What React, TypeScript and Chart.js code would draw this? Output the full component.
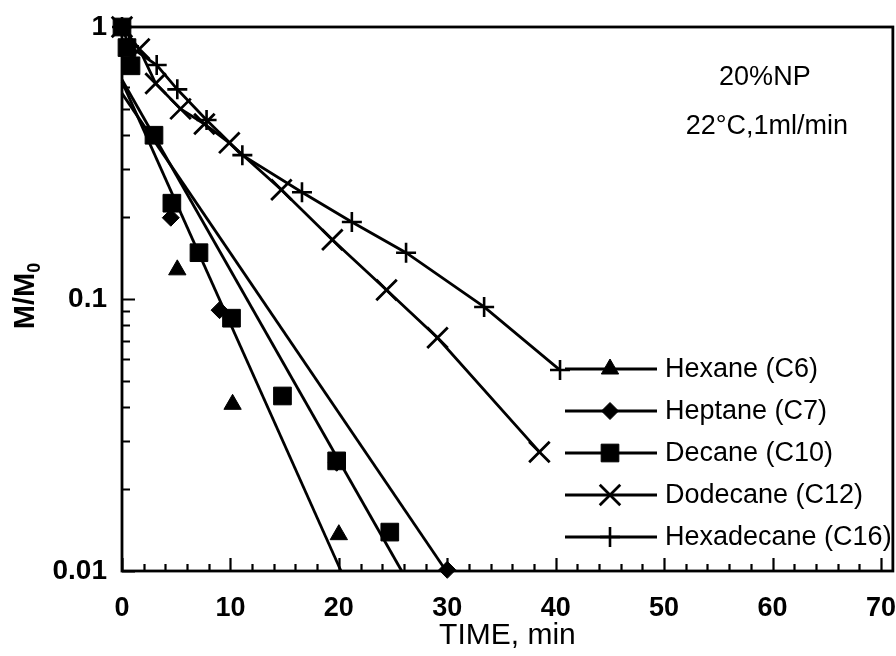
import React, { useEffect, useRef } from 'react';
import { Chart, registerables, PointElement } from 'chart.js';

Chart.register(...registerables);

const FONT = '"Liberation Sans", Arial, Helvetica, sans-serif';
const INK = '#000';

// Axes
const timeTicks = [0, 10, 20, 30, 40, 50, 60, 70];
const timeMin = 0;
const timeMax = 71.1;
const timeMinorStep = 2;
const ratioTicks = [0.01, 0.1, 1];
const ratioTickLabels = ['0.01', '0.1', '1'];

const seriesNames = ['Hexane (C6)', 'Heptane (C7)', 'Decane (C10)', 'Dodecane (C12)', 'Hexadecane (C16)'];
const noteLines = ['20%NP', '22°C,1ml/min'];

// Measured residual fraction M/M0 against time (min)
const hexaneTime = [5.1, 10.2, 20.0];
const hexaneRatio = [0.128, 0.041, 0.0136];
const heptaneTime = [4.5, 9.0, 19.8, 30.0];
const heptaneRatio = [0.199, 0.091, 0.025, 0.0101];
const decaneTime = [0, 0.46, 0.83, 2.95, 4.6, 7.1, 10.1, 14.8, 19.8, 24.7];
const decaneRatio = [1.0, 0.84, 0.72, 0.4, 0.225, 0.148, 0.085, 0.044, 0.0254, 0.0139];
const dodecaneTime = [0, 1.6, 3.1, 5.4, 7.6, 9.9, 14.7, 19.4, 24.4, 29.1, 38.5];
const dodecaneRatio = [1.0, 0.83, 0.62, 0.5, 0.44, 0.375, 0.252, 0.165, 0.108, 0.072, 0.0274];
const hexadecaneTime = [0, 0.65, 3.2, 5.1, 7.8, 11.1, 16.6, 21.2, 26.2, 33.4, 40.4];
const hexadecaneRatio = [1.0, 0.85, 0.725, 0.59, 0.455, 0.338, 0.247, 0.192, 0.148, 0.0935, 0.0548];

// First-order decay fits for the light alkanes
const hexaneFitTime = [0, 20.2];
const hexaneFitRatio = [0.63, 0.01];
const heptaneFitTime = [0, 29.9];
const heptaneFitRatio = [0.57, 0.01];
const decaneFitTime = [0, 25.8];
const decaneFitRatio = [0.64, 0.01];

const zip = (xs: number[], ys: number[]) => xs.map((x, i) => ({ x, y: ys[i] }));

type MarkerStyle = { pointStyle: string; radius: number; borderWidth: number };
const markerStyles: MarkerStyle[] = [
  { pointStyle: 'triangle', radius: 10, borderWidth: 1 },
  { pointStyle: 'rectRot', radius: 8.5, borderWidth: 1 },
  { pointStyle: 'rect', radius: 12.5, borderWidth: 1 },
  { pointStyle: 'crossRot', radius: 14.5, borderWidth: 2.8 },
  { pointStyle: 'cross', radius: 10, borderWidth: 2.6 },
];

const markerSet = (label: string, xs: number[], ys: number[], idx: number, withLine: boolean) => ({
  label,
  data: zip(xs, ys),
  showLine: withLine,
  borderColor: INK,
  backgroundColor: INK,
  borderWidth: 2.8,
  pointStyle: markerStyles[idx].pointStyle,
  pointRadius: markerStyles[idx].radius,
  pointBorderWidth: markerStyles[idx].borderWidth,
  pointBackgroundColor: INK,
  pointBorderColor: INK,
  clip: false,
  order: 0,
  legendIndex: idx,
});

const fitSet = (xs: number[], ys: number[]) => ({
  label: '',
  data: zip(xs, ys),
  showLine: true,
  borderColor: INK,
  borderWidth: 2.8,
  pointRadius: 0,
  clip: false,
  order: 5,
});

// Frame, inward ticks, notes, y-axis title and the inset legend
const decorPlugin = {
  id: 'decor',
  beforeDatasetsDraw(chart: any) {
    const { ctx, chartArea: a, scales } = chart;
    const xs = scales.x;
    const ys = scales.y;
    ctx.save();
    ctx.strokeStyle = INK;
    ctx.lineWidth = 2.8;
    ctx.strokeRect(a.left, a.top, a.right - a.left, a.bottom - a.top);

    ctx.lineWidth = 2.2;
    ctx.beginPath();
    for (let t = timeMin; t <= timeMax; t += timeMinorStep) {
      const px = Math.round(xs.getPixelForValue(t)) + 0.5;
      const len = t % 10 === 0 ? 13 : 7;
      ctx.moveTo(px, a.bottom);
      ctx.lineTo(px, a.bottom - len);
    }
    for (let k = 0; k < ratioTicks.length - 1; k++) {
      const base = ratioTicks[k];
      for (let m = 1; m <= 9; m++) {
        const v = base * m;
        const py = Math.round(ys.getPixelForValue(v)) + 0.5;
        const len = m === 1 ? 13 : 8;
        ctx.moveTo(a.left, py);
        ctx.lineTo(a.left + len, py);
      }
    }
    ctx.stroke();
    ctx.restore();
  },
  afterDatasetsDraw(chart: any) {
    const { ctx, chartArea: a } = chart;
    ctx.save();
    ctx.fillStyle = INK;
    ctx.strokeStyle = INK;

    // notes, upper right
    ctx.font = `27px ${FONT}`;
    ctx.textAlign = 'center';
    ctx.textBaseline = 'middle';
    ctx.fillText(noteLines[0], a.right - 128, 78);
    ctx.fillText(noteLines[1], a.right - 126, 127);

    // y-axis title M/M0 with subscript, rotated
    ctx.save();
    ctx.translate(23, (a.top + a.bottom) / 2 - 3);
    ctx.rotate(-Math.PI / 2);
    const main = 'M/M';
    const sub = '0';
    ctx.font = `bold 29px ${FONT}`;
    const wMain = ctx.measureText(main).width;
    ctx.font = `bold 18px ${FONT}`;
    const wSub = ctx.measureText(sub).width;
    const start = -(wMain + wSub) / 2;
    ctx.textAlign = 'left';
    ctx.textBaseline = 'alphabetic';
    ctx.font = `bold 29px ${FONT}`;
    ctx.fillText(main, start, 11);
    ctx.font = `bold 18px ${FONT}`;
    ctx.fillText(sub, start + wMain, 17);
    ctx.restore();

    // legend
    const x0 = 565;
    const x1 = 657;
    const xm = 610;
    const xt = 665;
    const y0 = 369;
    const dy = 42;
    chart.data.datasets.forEach((ds: any) => {
      if (ds.legendIndex === undefined) return;
      const i = ds.legendIndex;
      const y = y0 + i * dy;
      ctx.lineWidth = 2.8;
      ctx.beginPath();
      ctx.moveTo(x0, y);
      ctx.lineTo(x1, y);
      ctx.stroke();
      const pt = new (PointElement as any)({
        x: xm,
        y,
        options: {
          pointStyle: markerStyles[i].pointStyle,
          radius: markerStyles[i].radius,
          rotation: 0,
          borderWidth: markerStyles[i].borderWidth,
          borderColor: INK,
          backgroundColor: INK,
        },
      });
      pt.draw(ctx);
      ctx.font = `27px ${FONT}`;
      ctx.textAlign = 'left';
      ctx.textBaseline = 'middle';
      ctx.fillStyle = INK;
      ctx.fillText(ds.label, xt, y + 1);
    });
    ctx.restore();
  },
};

export default function App() {
  const canvasRef = useRef<HTMLCanvasElement | null>(null);

  useEffect(() => {
    const canvas = canvasRef.current;
    if (!canvas) return;
    const chart = new Chart(canvas, {
      type: 'scatter',
      data: {
        datasets: [
          markerSet(seriesNames[0], hexaneTime, hexaneRatio, 0, false),
          markerSet(seriesNames[1], heptaneTime, heptaneRatio, 1, false),
          markerSet(seriesNames[2], decaneTime, decaneRatio, 2, false),
          markerSet(seriesNames[3], dodecaneTime, dodecaneRatio, 3, true),
          markerSet(seriesNames[4], hexadecaneTime, hexadecaneRatio, 4, true),
          fitSet(hexaneFitTime, hexaneFitRatio),
          fitSet(heptaneFitTime, heptaneFitRatio),
          fitSet(decaneFitTime, decaneFitRatio),
        ] as any,
      },
      options: {
        responsive: false,
        animation: false,
        devicePixelRatio: 1,
        layout: { autoPadding: false, padding: { top: 27, right: 3, left: 0, bottom: 0 } },
        plugins: {
          legend: { display: false },
          tooltip: { enabled: false },
        },
        elements: { line: { tension: 0 } },
        scales: {
          x: {
            type: 'linear',
            min: timeMin,
            max: timeMax,
            grid: { display: false, drawTicks: true, tickLength: 21 },
            border: { display: false },
            afterBuildTicks: (scale: any) => {
              scale.ticks = timeTicks.map((v) => ({ value: v }));
            },
            afterFit: (scale: any) => {
              scale.height = 85;
            },
            ticks: {
              color: INK,
              padding: 0,
              maxRotation: 0,
              autoSkip: false,
              font: { family: FONT, size: 27, weight: 'bold' },
              callback: (v: any) => String(v),
            },
            title: {
              display: true,
              text: 'TIME, min',
              color: INK,
              font: { family: FONT, size: 30 },
              padding: { top: 0, bottom: 2 },
            },
          },
          y: {
            type: 'logarithmic',
            min: ratioTicks[0],
            max: ratioTicks[ratioTicks.length - 1],
            grid: { display: false, drawTicks: true, tickLength: 15 },
            border: { display: false },
            afterBuildTicks: (scale: any) => {
              scale.ticks = ratioTicks.map((v) => ({ value: v }));
            },
            afterFit: (scale: any) => {
              scale.width = 122;
            },
            ticks: {
              color: INK,
              padding: 0,
              autoSkip: false,
              font: { family: FONT, size: 28, weight: 'bold' },
              callback: (v: any) => {
                const i = ratioTicks.indexOf(v);
                return i >= 0 ? ratioTickLabels[i] : '';
              },
            },
          },
        },
      } as any,
      plugins: [decorPlugin],
    });
    return () => chart.destroy();
  }, []);

  return (
    <div style={{ position: 'fixed', left: 0, top: 0, width: 896, height: 656, background: '#fff' }}>
      <canvas ref={canvasRef} width={896} height={656} />
    </div>
  );
}
